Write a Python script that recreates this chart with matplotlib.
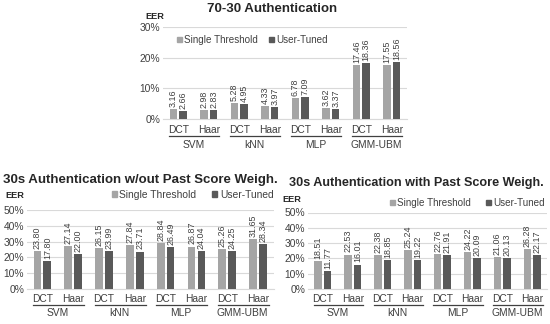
import matplotlib
matplotlib.use('Agg')
import matplotlib.pyplot as plt
from matplotlib.patches import Patch
from matplotlib import transforms
import numpy as np

W, H = 550, 324

groups = ['SVM', 'kNN', 'MLP', 'GMM-UBM']
subcats = ['DCT', 'Haar']

# 70-30 authentication
single_7030 = [3.16, 2.98, 5.28, 4.33, 6.78, 3.62, 17.46, 17.55]
user_7030 = [2.66, 2.83, 4.95, 3.97, 7.09, 3.37, 18.36, 18.56]

# 30s without past score weighting
single_wout = [23.80, 27.14, 26.15, 27.84, 28.84, 26.87, 25.26, 31.65]
user_wout = [17.80, 22.00, 23.99, 23.71, 26.49, 24.04, 24.25, 28.34]

# 30s with past score weighting
single_with = [18.51, 22.53, 22.38, 25.24, 22.76, 24.22, 21.06, 26.28]
user_with = [11.77, 16.01, 18.85, 19.22, 21.91, 20.09, 20.13, 22.17]

LIGHT = '#a5a5a5'
DARK = '#595959'
TXT = '#404040'
GRID = '#d9d9d9'

plt.rcParams['font.family'] = 'Liberation Sans'


def px_axes(fig, x0, x1, ytop, ybot):
    return fig.add_axes([x0 / W, (H - ybot) / H, (x1 - x0) / W, (ybot - ytop) / H])


def draw_chart(fig, box, single, user, ymax, yticks, lay):
    x0, x1, ytop, ybot = box
    ax = px_axes(fig, x0, x1, ytop, ybot)
    hpx = ybot - ytop
    x = np.arange(len(single))
    bw = 0.25
    off = 0.16
    ax.bar(x - off, single, bw, color=LIGHT, zorder=3)
    ax.bar(x + off, user, bw, color=DARK, zorder=3)
    for i in range(len(x)):
        ax.annotate(f'{single[i]:.2f}', (x[i] - off, single[i]), xytext=(0, 1.5),
                    textcoords='offset points', rotation=90, ha='center', va='bottom',
                    fontsize=6.4, color=TXT)
        ax.annotate(f'{user[i]:.2f}', (x[i] + off, user[i]), xytext=(0, 1.5),
                    textcoords='offset points', rotation=90, ha='center', va='bottom',
                    fontsize=6.4, color=TXT)
    ax.set_xlim(-0.5, len(x) - 0.5)
    ax.set_ylim(0, ymax)
    ax.set_yticks(yticks)
    ax.set_yticklabels([f'{t}%' for t in yticks], fontsize=7.4, color=TXT)
    ax.tick_params(axis='y', length=0, pad=2)
    ax.set_xticks([])
    ax.grid(axis='y', color=GRID, linewidth=0.8, zorder=0)
    for s in ['top', 'right', 'left']:
        ax.spines[s].set_visible(False)
    ax.spines['bottom'].set_color(GRID)
    ax.spines['bottom'].set_linewidth(0.8)

    trans = transforms.blended_transform_factory(ax.transData, ax.transAxes)
    y_sub, y_line, y_grp = [(ybot - v) / hpx for v in lay]
    for i in range(len(x)):
        ax.text(x[i], y_sub, subcats[i % 2], transform=trans, ha='center', va='center',
                fontsize=7.4, color=TXT)
    for g in range(len(groups)):
        a = 2 * g
        ax.plot([a - 0.3, a + 1.35], [y_line, y_line], transform=trans, color=TXT,
                linewidth=0.9, clip_on=False)
        ax.text(a + 0.5, y_grp, groups[g], transform=trans, ha='center', va='center',
                fontsize=7.4, color=TXT)
    return ax


def add_legend(fig, xpx, ypx, fs, colsp):
    handles = [Patch(color=LIGHT, label='Single Threshold'), Patch(color=DARK, label='User-Tuned')]
    fig.legend(handles=handles, loc='center left', bbox_to_anchor=(xpx / W, (H - ypx) / H),
               ncol=2, frameon=False, borderpad=0, borderaxespad=0, handlelength=0.5,
               handleheight=0.5, handletextpad=0.25, columnspacing=colsp,
               prop={'size': fs}, labelcolor=TXT)


def main():
    fig = plt.figure(figsize=(W / 100, H / 100), dpi=100)

    # 70-30
    draw_chart(fig, (163, 407, 27, 119), single_7030, user_7030, 30, [0, 10, 20, 30],
               (130, 136, 145.5))
    fig.text(272.5 / W, 1 - 9 / H, '70-30 Authentication', ha='center', va='center',
             fontsize=9.5, fontweight='bold', color='#262626')
    fig.text(145 / W, 1 - 16.5 / H, 'EER', ha='left', va='center', fontsize=6.6,
             fontweight='bold', color='#262626')
    add_legend(fig, 177, 40, 7.1, 1.1)

    # w/out past score
    draw_chart(fig, (27, 273.5, 210, 289), single_wout, user_wout, 50, [0, 10, 20, 30, 40, 50],
               (298.5, 304.5, 312.5))
    fig.text(140 / W, 1 - 180 / H, '30s Authentication w/out Past Score Weigh.', ha='center',
             va='center', fontsize=9.5, fontweight='bold', color='#262626')
    fig.text(5 / W, 1 - 196 / H, 'EER', ha='left', va='center', fontsize=6.6,
             fontweight='bold', color='#262626')
    add_legend(fig, 111.5, 195, 7.4, 1.55)

    # with past score
    draw_chart(fig, (308, 547, 212.5, 289), single_with, user_with, 50, [0, 10, 20, 30, 40, 50],
               (298.5, 304.5, 312.5))
    fig.text(416.5 / W, 1 - 183 / H, '30s Authentication with Past Score Weigh.', ha='center',
             va='center', fontsize=9.1, fontweight='bold', color='#262626')
    fig.text(282 / W, 1 - 199 / H, 'EER', ha='left', va='center', fontsize=6.6,
             fontweight='bold', color='#262626')
    add_legend(fig, 390, 203, 7.1, 1.5)

    fig.savefig('out.png', dpi=100)


if __name__ == "__main__":
    main()
